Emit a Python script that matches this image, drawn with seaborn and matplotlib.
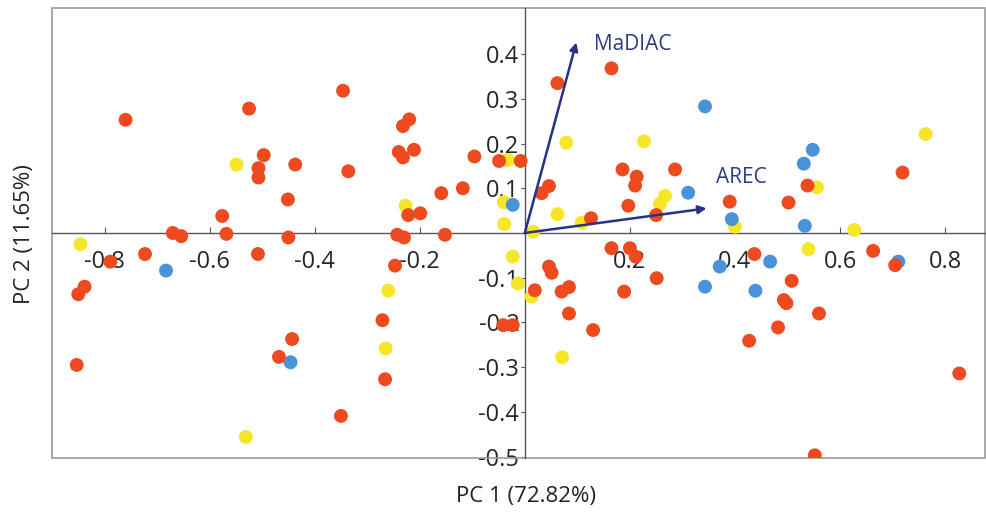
import pandas as pd
import seaborn as sns
import matplotlib.pyplot as plt

# PCA scores (PC1, PC2), one list per group
red_pc1 = [-0.760, -0.525, -0.497, -0.507, -0.507, -0.437, -0.451, -0.576, -0.568, -0.670,
           -0.654, -0.450, -0.789, -0.723, -0.508, -0.838, -0.850, -0.853, -0.443, -0.468,
           -0.346, -0.336, -0.220, -0.232, -0.240, -0.232, -0.211, -0.096, -0.049, -0.008,
           -0.159, -0.118, -0.222, -0.199, -0.243, -0.230, -0.152, -0.247, -0.271, -0.041,
           -0.023, -0.266, -0.350, 0.165, 0.200, 0.211, 0.251, 0.189, 0.046, 0.051,
           0.019, 0.070, 0.084, 0.084, 0.130, 0.437, 0.427, 0.663, 0.705, 0.508,
           0.493, 0.498, 0.560, 0.482, 0.827, 0.552, 0.062, 0.165, 0.186, 0.286,
           0.213, 0.210, 0.046, 0.032, 0.197, 0.126, 0.250, 0.390, 0.719, 0.538,
           0.502]
red_pc2 = [0.253, 0.278, 0.174, 0.145, 0.124, 0.153, 0.075, 0.038, -0.002, 0.000,
           -0.007, -0.010, -0.064, -0.047, -0.047, -0.120, -0.137, -0.295, -0.237, -0.277,
           0.318, 0.138, 0.254, 0.239, 0.181, 0.169, 0.186, 0.171, 0.161, 0.161,
           0.089, 0.100, 0.040, 0.044, -0.004, -0.010, -0.004, -0.073, -0.195, -0.206,
           -0.206, -0.327, -0.409, -0.034, -0.034, -0.053, -0.101, -0.131, -0.075, -0.089,
           -0.128, -0.131, -0.121, -0.180, -0.217, -0.047, -0.241, -0.040, -0.072, -0.107,
           -0.150, -0.157, -0.180, -0.211, -0.314, -0.497, 0.335, 0.368, 0.142, 0.142,
           0.126, 0.106, 0.105, 0.089, 0.061, 0.033, 0.040, 0.070, 0.135, 0.106,
           0.068]

blue_pc1 = [-0.683, -0.446, -0.023, 0.371, 0.343, 0.439, 0.533, 0.467, 0.711, 0.343,
            0.311, 0.394, 0.548, 0.531]
blue_pc2 = [-0.084, -0.289, 0.063, -0.075, -0.120, -0.129, 0.016, -0.064, -0.064, 0.283,
            0.090, 0.031, 0.186, 0.155]

yellow_pc1 = [-0.846, -0.549, -0.531, -0.032, -0.227, -0.040, -0.039, -0.023, -0.013, 0.013,
              -0.260, -0.265, 0.016, 0.071, 0.627, 0.540, 0.079, 0.227, 0.267, 0.257,
              0.062, 0.108, 0.400, 0.763, 0.556]
yellow_pc2 = [-0.025, 0.153, -0.456, 0.163, 0.061, 0.069, 0.020, -0.053, -0.113, -0.142,
              -0.129, -0.258, 0.003, -0.278, 0.007, -0.036, 0.202, 0.205, 0.083, 0.065,
              0.042, 0.023, 0.014, 0.221, 0.102]

# loadings (arrows)
var_names = ["MaDIAC", "AREC"]
load_pc1 = [0.098, 0.346]
load_pc2 = [0.426, 0.055]

# drawing order: yellow, blue, then red on top
df = pd.concat([
    pd.DataFrame({"PC1": yellow_pc1, "PC2": yellow_pc2, "group": "yellow"}),
    pd.DataFrame({"PC1": blue_pc1, "PC2": blue_pc2, "group": "blue"}),
    pd.DataFrame({"PC1": red_pc1, "PC2": red_pc2, "group": "red"}),
], ignore_index=True)

colors = {"red": "#EE4A1F", "blue": "#4A92DA", "yellow": "#F6E62A"}

sns.set_style("white")
plt.rcParams["font.family"] = ["Open Sans", "DejaVu Sans"]
plt.rcParams["axes.unicode_minus"] = False

fig = plt.figure(figsize=(9.87, 5.15), dpi=100)
ax = fig.add_axes([0.0527, 0.1107, 0.9453, 0.8738])

sns.scatterplot(data=df, x="PC1", y="PC2", hue="group", palette=colors,
                s=100, linewidth=0, legend=False, ax=ax, zorder=3)

# loading arrows
arrow_col = "#26318A"
for name, lx, ly in zip(var_names, load_pc1, load_pc2):
    ax.annotate("", xy=(lx, ly), xytext=(0, 0),
                arrowprops=dict(arrowstyle="-|>", color=arrow_col, lw=1.8,
                                mutation_scale=12, shrinkA=0, shrinkB=0),
                zorder=4)
ax.text(load_pc1[0] + 0.033, load_pc2[0] - 0.005, var_names[0], color="#2E3A87",
        fontsize=15, va="center", ha="left", zorder=5)
ax.text(load_pc1[1] + 0.018, load_pc2[1] + 0.068, var_names[1], color="#2E3A87",
        fontsize=15, va="center", ha="left", zorder=5)

ax.set_xlim(-0.90, 0.876)
ax.set_ylim(-0.503, 0.503)

# axes crossing at the origin
ax.spines["left"].set_position(("data", 0))
ax.spines["bottom"].set_position(("data", 0))
for s in ["left", "bottom"]:
    ax.spines[s].set_color("#555555")
    ax.spines[s].set_linewidth(1.0)
for s in ["top", "right"]:
    ax.spines[s].set_visible(False)
frame = plt.Rectangle((0, 0), 1, 1, transform=ax.transAxes, fill=False,
                      edgecolor="#9a9a9a", lw=1.2, clip_on=False, zorder=1)
ax.add_patch(frame)

xt = [-0.8, -0.6, -0.4, -0.2, 0.2, 0.4, 0.6, 0.8]
yt = [-0.5, -0.4, -0.3, -0.2, -0.1, 0.1, 0.2, 0.3, 0.4]
ax.set_xticks(xt)
ax.set_xticklabels([f"{v:.1f}" for v in xt])
ax.set_yticks(yt)
ax.set_yticklabels([f"{v:.1f}" for v in yt])
ax.tick_params(axis="x", direction="in", length=4, pad=12, labelsize=17,
               color="#555555", bottom=True)
ax.tick_params(axis="y", direction="out", length=3, pad=1, labelsize=17,
               color="#555555", left=True)
for lab in ax.get_xticklabels() + ax.get_yticklabels():
    lab.set_zorder(6)

ax.set_xlabel("")
ax.set_ylabel("")
fig.text(0.533, 0.035, "PC 1 (72.82%)", fontsize=16, ha="center", va="center", color="#222222")
fig.text(0.025, 0.546, "PC 2 (11.65%)", fontsize=16, ha="center", va="center",
         rotation=90, color="#222222")

fig.savefig("out.png", dpi=100)
